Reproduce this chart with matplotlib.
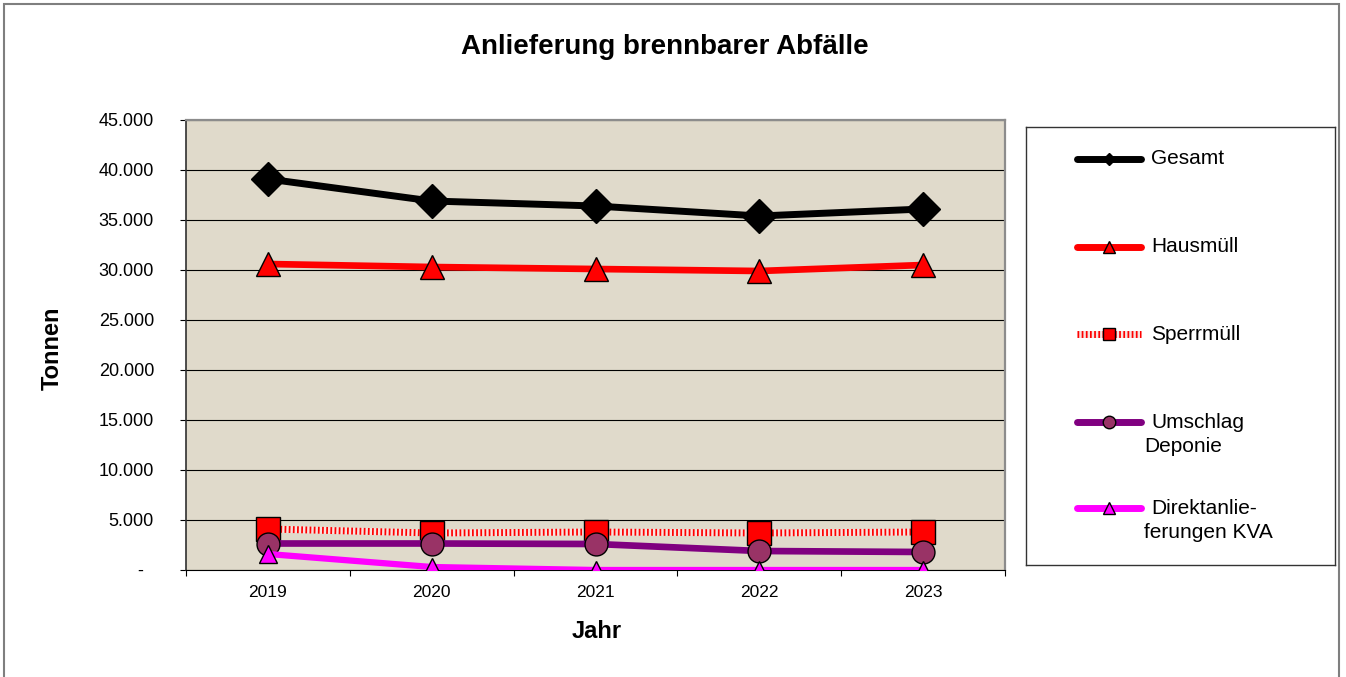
import matplotlib
matplotlib.use('Agg')
import matplotlib.pyplot as plt
from matplotlib.lines import Line2D
from matplotlib.patches import Rectangle
from matplotlib.ticker import FixedLocator, FuncFormatter

plt.rcParams['font.family'] = ['Liberation Sans', 'DejaVu Sans']

# data (tonnes per year)
years = ['2019', '2020', '2021', '2022', '2023']
gesamt = [39100, 36900, 36400, 35400, 36100]
hausmuell = [30600, 30300, 30100, 29900, 30500]
sperrmuell = [4100, 3700, 3800, 3700, 3800]
umschlag = [2650, 2650, 2600, 1900, 1800]
direkt = [1600, 300, 0, 0, 0]

y_ticks = list(range(0, 45001, 5000))

W, H = 1346, 677
fig = plt.figure(figsize=(W / 100, H / 100), dpi=100)

# plot area in pixels: x 186..1005, y 120..570
ax = fig.add_axes([186 / W, (H - 570) / H, (1005 - 186) / W, (570 - 120) / H])
ax.set_facecolor('#E0DACB')

x = list(range(len(years)))

# Gesamt
ax.plot(x, gesamt, color='black', lw=5, marker='D', ms=17,
        mfc='black', mec='black', zorder=3)
# Hausmuell
ax.plot(x, hausmuell, color='#FF0000', lw=4.8, marker='^', ms=17,
        mfc='#FF0000', mec='black', mew=1, zorder=3)
# Sperrmuell: dotted red band
ax.plot(x, sperrmuell, color='#F6E4E0', lw=5, zorder=3, solid_capstyle='butt')
ax.plot(x, sperrmuell, color='#FF0000', lw=5, ls=(0, (0.25, 0.35)), zorder=3)
ax.plot(x, sperrmuell, ls='none', marker='s', ms=17,
        mfc='#FF0000', mec='black', mew=1, zorder=3)
# Umschlag Deponie
ax.plot(x, umschlag, color='#800080', lw=4.8, marker='o', ms=16.5,
        mfc='#993366', mec='black', mew=1, zorder=3)
# Direktanlieferungen KVA
ax.plot(x, direkt, color='#FF00FF', lw=4.5, marker='^', ms=13,
        mfc='#FF00FF', mec='black', mew=1, zorder=3)

ax.set_xlim(-0.5, len(years) - 0.5)
ax.set_ylim(0, 45000)

ax.yaxis.set_major_locator(FixedLocator(y_ticks))
ax.yaxis.set_major_formatter(FuncFormatter(
    lambda v, p: '-  ' if v == 0 else f'{int(v):,}'.replace(',', '.')))
ax.grid(axis='y', color='black', lw=0.8, zorder=1)
ax.set_axisbelow(True)

ax.xaxis.set_major_locator(FixedLocator([i - 0.5 for i in range(len(years) + 1)]))
ax.xaxis.set_major_formatter(FuncFormatter(lambda v, p: ''))
ax.xaxis.set_minor_locator(FixedLocator(x))
ax.xaxis.set_minor_formatter(FuncFormatter(lambda v, p: years[int(round(v))]))

ax.tick_params(axis='y', direction='out', length=4, width=0.8, pad=19,
               labelsize=13, colors='black')
ax.tick_params(axis='x', which='major', direction='out', length=4, width=0.8)
ax.tick_params(axis='x', which='minor', length=0, pad=11, labelsize=12.5)

for side in ['top', 'right']:
    ax.spines[side].set_color('#8C8C8C')
    ax.spines[side].set_linewidth(1.6)
ax.spines['left'].set_color('#303030')
ax.spines['left'].set_linewidth(1.2)
ax.spines['bottom'].set_color('black')
ax.spines['bottom'].set_linewidth(0.8)

ax.set_xlabel('Jahr', fontsize=17, fontweight='bold', va='center')
ax.xaxis.set_label_coords((597 - 186) / (1005 - 186), (570 - 632) / 450)
ax.set_ylabel('Tonnen', fontsize=17, fontweight='bold', va='center', ha='center')
ax.yaxis.set_label_coords((52 - 186) / (1005 - 186), (570 - 348) / 450)

fig.text(665 / W, 1 - 47 / H, 'Anlieferung brennbarer Abfälle',
         fontsize=20, fontweight='bold', ha='center', va='center')

# legend box drawn in its own axes, pixel units inside the box
lx0, ly0, lx1, ly1 = 1026, 127, 1335, 565
lax = fig.add_axes([lx0 / W, (H - ly1) / H, (lx1 - lx0) / W, (ly1 - ly0) / H])
lax.set_xlim(0, lx1 - lx0)
lax.set_ylim(ly1 - ly0, 0)
lax.set_xticks([])
lax.set_yticks([])
for s in lax.spines.values():
    s.set_color('#333333')
    s.set_linewidth(1.0)

legend_rows = [
    (['Gesamt'], 32, dict(color='black', marker='D', ms=6, mfc='black', mec='black')),
    (['Hausmüll'], 120, dict(color='#FF0000', marker='^', ms=9, mfc='#FF0000', mec='black')),
    (['Sperrmüll'], 207, None),
    (['Umschlag', 'Deponie'], 295, dict(color='#800080', marker='o', ms=9, mfc='#993366', mec='black')),
    (['Direktanlieferungen'.replace('anlieferungen', 'anlie-'), 'ferungen KVA'], 381,
     dict(color='#FF00FF', marker='^', ms=9, mfc='#FF00FF', mec='black')),
]
hx = [51, 115]
for lines, yy, style in legend_rows:
    if style is None:
        lax.add_line(Line2D(hx, [yy, yy], color='#F6E4E0', lw=5, solid_capstyle='butt'))
        lax.add_line(Line2D(hx, [yy, yy], color='#FF0000', lw=5, ls=(0, (0.25, 0.35))))
        lax.add_line(Line2D([83], [yy], ls='none', marker='s', ms=9,
                            mfc='#FF0000', mec='black', mew=1))
    else:
        lax.add_line(Line2D(hx, [yy, yy], lw=5, solid_capstyle='round',
                            color=style['color']))
        lax.add_line(Line2D([83], [yy], ls='none', marker=style['marker'], ms=style['ms'],
                            mfc=style['mfc'], mec=style['mec'], mew=1))
    lax.text(125, yy, lines[0], fontsize=15, ha='left', va='center')
    if len(lines) > 1:
        lax.text(118, yy + 25, lines[1], fontsize=15, ha='left', va='center')

# outer chart border
fig.patches.append(Rectangle((4 / W, -0.02), (1339 - 4) / W, (H - 4) / H + 0.02,
                             transform=fig.transFigure, fill=False,
                             edgecolor='#7F7F7F', lw=1.5))

fig.savefig('out.png', dpi=100)
